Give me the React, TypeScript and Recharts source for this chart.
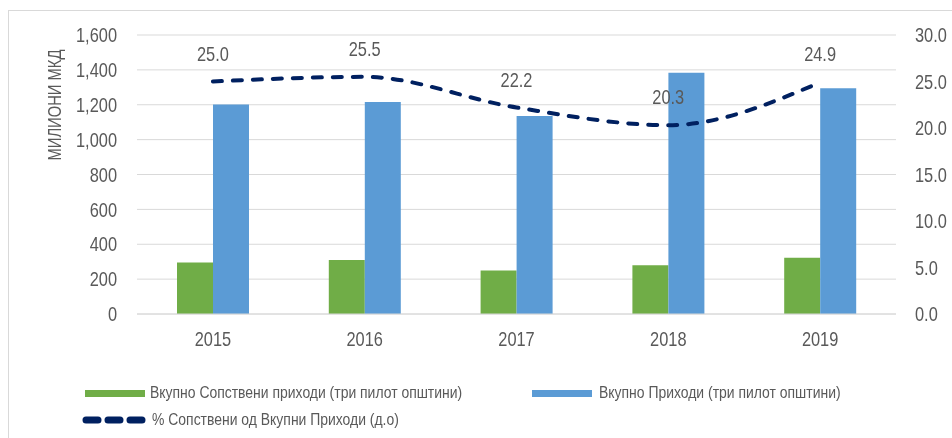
import { Bar, CartesianGrid, ComposedChart, LabelList, Line, XAxis, YAxis } from 'recharts'

const YEARS = ['2015', '2016', '2017', '2018', '2019']
const OWN_REVENUE = [295, 309, 249, 280, 322] // милиони мкд
const TOTAL_REVENUE = [1201, 1216, 1136, 1383, 1295]
const OWN_SHARE = [25.0, 25.5, 22.2, 20.3, 24.9] // %

const LEFT_TICKS = [0, 200, 400, 600, 800, 1000, 1200, 1400, 1600]
const RIGHT_TICKS = [0, 5, 10, 15, 20, 25, 30]

const NAME_OWN = 'Вкупно Сопствени приходи (три пилот општини)'
const NAME_TOTAL = 'Вкупно Приходи (три пилот општини)'
const NAME_SHARE = '% Сопствени од Вкупни Приходи (д.о)'

const GREEN = '#70ad47'
const BLUE = '#5b9bd5'
const NAVY = '#002060'
const TEXT = '#595959'
const GRID = '#d9d9d9'
const FONT = '"Liberation Sans", Arial, sans-serif'
const NARROW = 0.82 // Arial Narrow ~ Arial squeezed horizontally

const data = YEARS.map((year, i) => ({
  year,
  own: OWN_REVENUE[i],
  total: TOTAL_REVENUE[i],
  share: OWN_SHARE[i],
}))

function NarrowText({ x, y, anchor, dy, children }: any) {
  return (
    <text
      x={0}
      y={0}
      dy={dy}
      transform={`translate(${x},${y}) scale(${NARROW},1)`}
      textAnchor={anchor}
      fill={TEXT}
      fontSize={20}
      fontFamily={FONT}
    >
      {children}
    </text>
  )
}

const XTick = ({ x, y, payload }: any) => (
  <NarrowText x={x} y={y} anchor="middle" dy="0.71em">{payload.value}</NarrowText>
)
const LeftTick = ({ x, y, payload }: any) => (
  <NarrowText x={x} y={y} anchor="end" dy="0.36em">{Number(payload.value).toLocaleString('en-US')}</NarrowText>
)
const RightTick = ({ x, y, payload }: any) => (
  <NarrowText x={x} y={y} anchor="start" dy="0.36em">{Number(payload.value).toFixed(1)}</NarrowText>
)
const ShareLabel = ({ x, y, value }: any) => (
  <NarrowText x={x} y={y - 21} anchor="middle" dy={0}>{Number(value).toFixed(1)}</NarrowText>
)

const legendText = {
  position: 'absolute' as const,
  fontSize: 17,
  color: TEXT,
  fontFamily: FONT,
  whiteSpace: 'nowrap' as const,
  lineHeight: '20px',
  transform: `scaleX(${NARROW})`,
  transformOrigin: 'left center',
}

export default function App() {
  return (
    <div
      style={{
        position: 'fixed',
        left: 8,
        top: 10,
        width: 943,
        height: 427,
        borderTop: `1px solid ${GRID}`,
        borderLeft: `1px solid ${GRID}`,
        overflow: 'hidden',
      }}
    >
      <ComposedChart
        width={943}
        height={360}
        data={data}
        margin={{ top: 24, right: 0, bottom: 17, left: 0 }}
        barGap={0}
        barSize={36}
      >
        <CartesianGrid stroke={GRID} vertical={false} yAxisId="left" />
        <XAxis dataKey="year" height={40} stroke={GRID} tickLine={false} tickSize={0} tickMargin={18} tick={<XTick />} />
        <YAxis
          yAxisId="left"
          width={128}
          domain={[0, 1600]}
          ticks={LEFT_TICKS}
          axisLine={false}
          tickLine={false}
          tickSize={0}
          tickMargin={20}
          tick={<LeftTick />}
        />
        <YAxis
          yAxisId="right"
          orientation="right"
          width={56}
          domain={[0, 30]}
          ticks={RIGHT_TICKS}
          axisLine={false}
          tickLine={false}
          tickSize={0}
          tickMargin={19}
          tick={<RightTick />}
        />
        <Bar yAxisId="left" dataKey="own" name={NAME_OWN} fill={GREEN} isAnimationActive={false} />
        <Bar yAxisId="left" dataKey="total" name={NAME_TOTAL} fill={BLUE} isAnimationActive={false} />
        <Line
          yAxisId="right"
          type="monotone"
          dataKey="share"
          name={NAME_SHARE}
          stroke={NAVY}
          strokeWidth={4}
          strokeDasharray="9 11"
          strokeLinecap="round"
          dot={false}
          activeDot={false}
          isAnimationActive={false}
        >
          <LabelList dataKey="share" content={<ShareLabel />} />
        </Line>
      </ComposedChart>

      <span
        style={{
          position: 'absolute',
          left: 46,
          top: 94,
          transform: `translate(-50%, -50%) rotate(-90deg) scaleX(${NARROW})`,
          fontSize: 18,
          color: TEXT,
          fontFamily: FONT,
          whiteSpace: 'nowrap',
        }}
      >
        МИЛИОНИ МКД
      </span>

      {/* legend */}
      <div style={{ position: 'absolute', left: 76, top: 379, width: 60, height: 7, background: GREEN }} />
      <span style={{ ...legendText, left: 141, top: 372 }}>{NAME_OWN}</span>
      <div style={{ position: 'absolute', left: 523, top: 379, width: 60, height: 7, background: BLUE }} />
      <span style={{ ...legendText, left: 590, top: 372 }}>{NAME_TOTAL}</span>
      <svg style={{ position: 'absolute', left: 72, top: 403 }} width={66} height={12}>
        <line x1={5} y1={6} x2={61} y2={6} stroke={NAVY} strokeWidth={7} strokeLinecap="round" strokeDasharray="12 10" />
      </svg>
      <span style={{ ...legendText, left: 143, top: 399 }}>{NAME_SHARE}</span>
    </div>
  )
}
